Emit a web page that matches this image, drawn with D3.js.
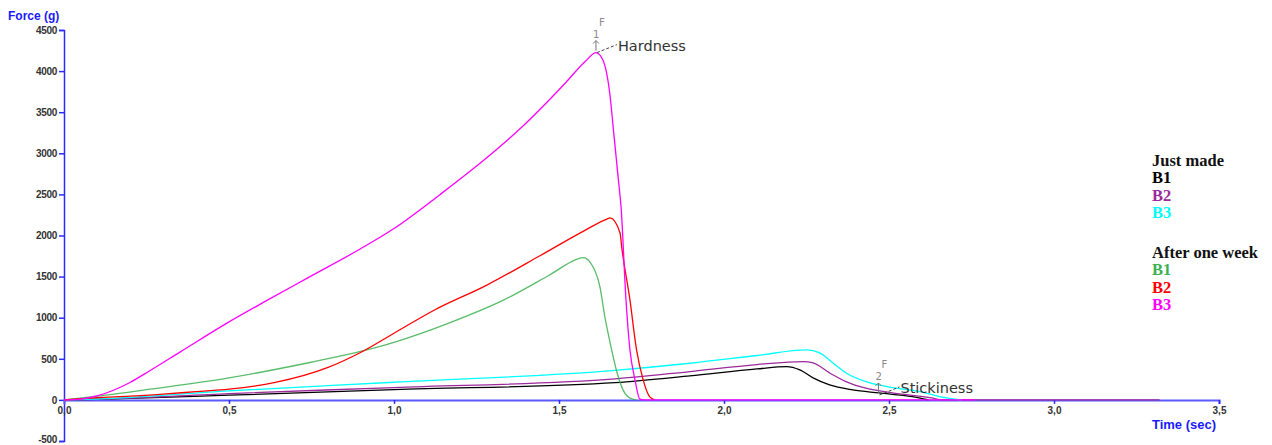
<!DOCTYPE html>
<html><head><meta charset="utf-8">
<script src="https://cdn.jsdelivr.net/npm/d3@7"></script>
<style>
html,body{margin:0;padding:0;background:#fff;}
svg{display:block;}
</style></head>
<body>
<svg id="chart" width="1272" height="445"></svg>
<script>
// ---- data ----
const xTicks = [0, 0.5, 1.0, 1.5, 2.0, 2.5, 3.0, 3.5];
const xTickLabels = ["0,0","0,5","1,0","1,5","2,0","2,5","3,0","3,5"];
const yTicks = [-500, 0, 500, 1000, 1500, 2000, 2500, 3000, 3500, 4000, 4500];
const yTickLabels = ["-500","0","500","1000","1500","2000","2500","3000","3500","4000","4500"];

const justB1T = [0, 0.1, 0.5, 1.0, 1.67, 1.897, 2.1, 2.19, 2.23, 2.27, 2.32, 2.39, 2.47, 2.57, 2.62];
const justB1F = [0, 8, 57, 125, 210, 292, 377, 405, 365, 268, 182, 122, 85, 40, 0];

const justB2T = [0, 0.1, 0.5, 1.0, 1.67, 1.897, 2.1, 2.24, 2.27, 2.32, 2.37, 2.43, 2.51, 2.63, 2.66, 3.32];
const justB2F = [0, 8, 77, 150, 255, 345, 430, 466, 450, 328, 223, 142, 85, 24, 0, 0];

const justB3T = [0, 0.1, 0.5, 1.0, 1.67, 1.897, 2.1, 2.25, 2.29, 2.33, 2.37, 2.43, 2.49, 2.594, 2.675, 2.72];
const justB3F = [0, 10, 110, 215, 360, 446, 540, 608, 571, 450, 328, 223, 165, 101, 24, 0];

const weekB1T = [0, 0.1, 0.26, 0.5, 0.745, 0.905, 1.0, 1.17, 1.33, 1.47, 1.56, 1.573, 1.603, 1.624, 1.639, 1.655, 1.676, 1.694, 1.72, 1.735];
const weekB1F = [0, 45, 130, 268, 455, 595, 700, 940, 1210, 1516, 1720, 1731, 1620, 1375, 1010, 693, 330, 122, 12, 0];

const weekB2T = [0, 0.1, 0.2, 0.3, 0.4, 0.5, 0.64, 0.8, 0.9, 1.0, 1.12, 1.28, 1.445, 1.58, 1.645, 1.655, 1.685, 1.69, 1.715, 1.735, 1.755, 1.775, 1.79];
const weekB2F = [0, 28, 45, 70, 100, 130, 212, 395, 580, 811, 1088, 1394, 1760, 2066, 2200, 2214, 2030, 1860, 1216, 608, 243, 36, 0];

const weekB3T = [0, 0.05, 0.1, 0.2, 0.26, 0.35, 0.49, 0.615, 0.74, 0.9, 1.0, 1.14, 1.28, 1.39, 1.52, 1.58, 1.612, 1.633, 1.655, 1.665, 1.68, 1.688, 1.703, 1.715, 1.73, 1.745, 1.76, 2.76];
const weekB3F = [0, 10, 49, 212, 355, 578, 925, 1210, 1487, 1842, 2085, 2500, 2942, 3329, 3859, 4120, 4225, 4136, 3690, 3285, 2676, 2350, 1216, 608, 250, 10, 0, 0];

const seriesNames = ["Just made B1", "Just made B2", "Just made B3", "After one week B1", "After one week B2", "After one week B3"];
const seriesColors = ["#000000", "#9b2a9b", "#00ffff", "#3cb050", "#ff0000", "#ff00ff"];

const legendGroups = ["Just made", "After one week"];
const legendItems = ["B1", "B2", "B3"];

const hardnessPoint = [1.612, 4225];
const stickinessPoint = [2.468, 60];

// ---- drawing ----
const svg = d3.select("#chart");
const x = d3.scaleLinear().domain([0, 3.5]).range([64, 1219]);
const y = d3.scaleLinear().domain([-500, 4500]).range([441, 30]);
const axisColor = "#2b2bff";

const series = [
  [justB1T, justB1F], [justB2T, justB2F], [justB3T, justB3F],
  [weekB1T, weekB1F], [weekB2T, weekB2F], [weekB3T, weekB3F]
];

// y axis
const yAxis = d3.axisLeft(y).tickValues(yTicks).tickFormat((d,i)=>yTickLabels[i]).tickSize(5).tickPadding(2);
const gy = svg.append("g").attr("transform", `translate(${x(0)},0)`).call(yAxis);
gy.select(".domain").attr("stroke", axisColor).attr("stroke-width", 1.5);
gy.selectAll(".tick line").attr("stroke", axisColor).attr("stroke-width", 1.5);
gy.selectAll(".tick text").attr("fill", "#333").style("font-family", "'Liberation Sans Narrow','Liberation Sans',Arial,sans-serif")
  .style("font-size", "10px").style("font-weight", "bold").attr("letter-spacing", "-0.3");
gy.selectAll(".tick").filter(d => d === -500).select("text").attr("dy", "0.1em");

// x axis
const xAxis = d3.axisBottom(x).tickValues(xTicks).tickFormat((d,i)=>xTickLabels[i]).tickSize(4).tickPadding(3);
const gx = svg.append("g").attr("transform", `translate(0,${y(0)})`).call(xAxis);
gx.select(".domain").attr("stroke", "#5a5aff").attr("stroke-width", 2);
gx.selectAll(".tick line").attr("stroke", axisColor).attr("stroke-width", 1.5);
gx.selectAll(".tick text").attr("fill", "#333").style("font-family", "'Liberation Sans Narrow','Liberation Sans',Arial,sans-serif")
  .style("font-size", "10px").style("font-weight", "bold");
gx.selectAll(".tick").filter(d => d === 0).select("line").remove();

// series lines
const line = d3.line().x(d => x(d[0])).y(d => y(d[1])).curve(d3.curveMonotoneX);
series.forEach((s, i) => {
  const pts = s[0].map((t, j) => [t, s[1][j]]);
  svg.append("path").datum(pts).attr("d", line)
    .attr("fill", "none").attr("stroke", seriesColors[i]).attr("stroke-width", 1.3)
    .attr("stroke-opacity", i === 3 ? 0.85 : 1);
});

// axis titles
svg.append("text").attr("x", 8).attr("y", 20).text("Force (g)")
  .attr("fill", "#1a1aff").style("font-family", "'Liberation Sans',Arial,sans-serif").style("font-size", "12px").style("font-weight", "bold");
svg.append("text").attr("x", 1216).attr("y", 429).attr("text-anchor", "end").text("Time (sec)")
  .attr("fill", "#1a1aff").style("font-family", "'Liberation Sans',Arial,sans-serif").style("font-size", "13px").style("font-weight", "bold");

// annotations
function annotate(pt, num, label) {
  const px = x(pt[0]), py = y(pt[1]);
  const g = svg.append("g").attr("fill", "#777").attr("stroke", "none");
  const font = "'DejaVu Sans',sans-serif";
  g.append("text").attr("x", px + 3).attr("y", py - 27).text("F").style("font-family", font).style("font-size", "10px").attr("fill", "#888");
  g.append("text").attr("x", px - 3).attr("y", py - 15).text(num).style("font-family", font).style("font-size", "10px").attr("fill", "#888");
  g.append("path").attr("d", `M${px},${py - 2} L${px},${py - 12} M${px - 3},${py - 9} L${px},${py - 12} L${px + 3},${py - 9}`)
    .attr("stroke", "#777").attr("stroke-width", 1).attr("fill", "none");
  g.append("path").attr("d", `M${px + 1},${py} L${px + 21},${py - 8}`)
    .attr("stroke", "#444").attr("stroke-width", 1).attr("stroke-dasharray", "3,2").attr("fill", "none");
  g.append("text").attr("x", px + 22).attr("y", py - 2).text(label)
    .style("font-family", font).style("font-size", "14.5px").attr("fill", "#333");
}
annotate(hardnessPoint, "1", "Hardness");
annotate(stickinessPoint, "2", "Stickiness");

// legend
const lg = svg.append("g").style("font-family", "'Liberation Serif','Times New Roman',serif")
  .style("font-size", "16.5px").style("font-weight", "bold");
const legendX = 1152;
legendGroups.forEach((grp, gi) => {
  const baseY = gi === 0 ? 166 : 258;
  lg.append("text").attr("x", legendX).attr("y", baseY).text(grp).attr("fill", "#111");
  legendItems.forEach((it, ii) => {
    lg.append("text").attr("x", legendX).attr("y", baseY + 17.3 * (ii + 1)).text(it)
      .attr("fill", seriesColors[gi * 3 + ii]);
  });
});
</script>
</body></html>
